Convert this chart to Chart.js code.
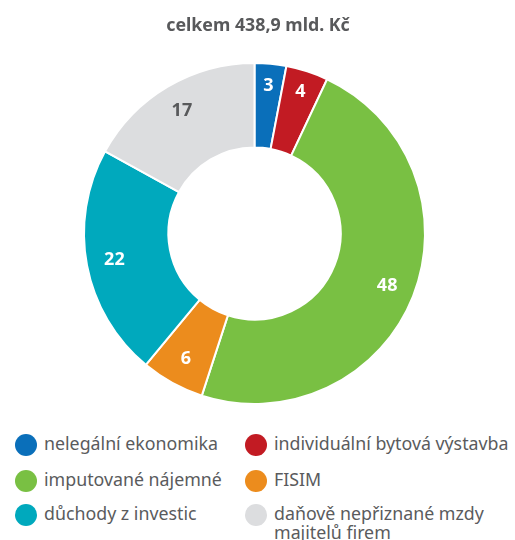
<!DOCTYPE html>
<html>
<head>
<meta charset="utf-8">
<script src="https://cdn.jsdelivr.net/npm/chart.js@4"></script>
<style>
  body { margin: 0; background: #fff; font-family: "Noto Sans", sans-serif; }
  #wrap { position: relative; width: 515px; height: 540px; overflow: hidden; }
  #chart { position: absolute; left: 0; top: 0; }
  .legend { position: absolute; left: 0; top: 0; width: 515px; }
  .item { position: absolute; font-size: 17.8px; color: #5a5b5d; line-height: 19px; white-space: nowrap; }
  .dot { position: absolute; width: 22px; height: 22px; border-radius: 50%; left: 0; top: 0; }
  .item span { display: block; margin-left: 29px; }
</style>
</head>
<body>
<div id="wrap">
  <canvas id="chart" width="515" height="410"></canvas>
  <div class="legend" id="legend"></div>
</div>
<script>
// chart data
const titleText = 'celkem 438,9 mld. Kč';
const categories = [
  'nelegální ekonomika',
  'individuální bytová výstavba',
  'imputované nájemné',
  'FISIM',
  'důchody z investic',
  'daňově nepřiznané mzdy majitelů firem'
];
const values = [3, 4, 48, 6, 22, 17];
const colors = ['#0a6fba', '#c21b23', '#79c043', '#ec8c1d', '#00a9bd', '#dcdddf'];
const labelColors = ['#fff', '#fff', '#fff', '#fff', '#fff', '#58595b'];

// title + value labels drawn on the canvas
const overlay = {
  id: 'overlay',
  afterDraw(chart) {
    const ctx = chart.ctx;
    ctx.save();
    ctx.fillStyle = '#58595b';
    ctx.font = 'bold 17.8px "Noto Sans"';
    ctx.textAlign = 'center';
    ctx.textBaseline = 'middle';
    ctx.fillText(titleText, 258, 26);

    const meta = chart.getDatasetMeta(0);
    ctx.font = 'bold 18px "Noto Sans"';
    meta.data.forEach((arc, i) => {
      const p = arc.getProps(['x', 'y', 'startAngle', 'endAngle', 'innerRadius', 'outerRadius']);
      const mid = (p.startAngle + p.endAngle) / 2;
      const frac = values[i] < 5 ? 0.74 : 0.67;
      const r = p.innerRadius + frac * (p.outerRadius - p.innerRadius);
      ctx.fillStyle = labelColors[i];
      ctx.fillText(String(values[i]), p.x + Math.cos(mid) * r, p.y + Math.sin(mid) * r);
    });
    ctx.restore();
  }
};

new Chart(document.getElementById('chart'), {
  type: 'doughnut',
  data: {
    labels: categories,
    datasets: [{
      data: values,
      backgroundColor: colors,
      borderColor: '#fff',
      borderWidth: 2
    }]
  },
  options: {
    responsive: false,
    animation: false,
    cutout: '50.5%',
    layout: { padding: { top: 62, bottom: 5, left: 83, right: 89 } },
    plugins: {
      legend: { display: false },
      tooltip: { enabled: false }
    }
  },
  plugins: [overlay]
});

// legend, two columns
const legendPos = [
  [15, 434], [245, 434],
  [15, 470], [245, 470],
  [15, 504], [245, 504]
];
const legendText = [
  'nelegální ekonomika',
  'individuální bytová výstavba',
  'imputované nájemné',
  'FISIM',
  'důchody z investic',
  'daňově nepřiznané mzdy<br>majitelů firem'
];
const legendEl = document.getElementById('legend');
legendText.forEach((t, i) => {
  const d = document.createElement('div');
  d.className = 'item';
  d.style.left = legendPos[i][0] + 'px';
  d.style.top = legendPos[i][1] + 'px';
  d.innerHTML = '<div class="dot" style="background:' + colors[i] + '"></div><span>' + t + '</span>';
  legendEl.appendChild(d);
});
</script>
</body>
</html>
